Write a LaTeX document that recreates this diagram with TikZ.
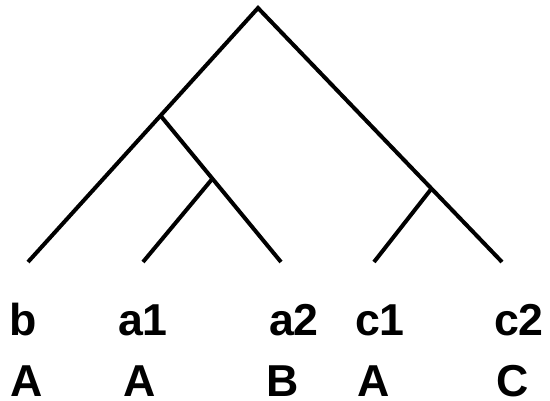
\documentclass[tikz,border=0pt]{standalone}
\usepackage{fontspec}
\setmainfont{Liberation Sans}
\usepackage{tikz}
\tikzset{
branch/.style={line width=4pt,black,line cap=butt},
leaflabel/.style={font=\fontsize{44.7}{50}\selectfont\bfseries,anchor=base,inner sep=0pt}
}

\begin{document}
\begin{tikzpicture}[x=1pt,y=-1pt]
\useasboundingbox (0,0) rectangle (550,401);
% tree points
\coordinate (root) at (258,8);
\coordinate (nab) at (160,115);
\coordinate (na) at (213,178);
\coordinate (nc) at (432,188);
\coordinate (lb) at (28,262);
\coordinate (la1) at (143,262);
\coordinate (la2) at (281,262);
\coordinate (lc1) at (374,262);
\coordinate (lc2) at (502,262);
% branches
\draw[branch] (lb) -- (root) -- (lc2);
\draw[branch] (nab) -- (la2);
\draw[branch] (na) -- (la1);
\draw[branch] (nc) -- (lc1);
% labels
\node[leaflabel] (tb) at (23,336) {b};
\node[leaflabel] (ta1) at (143,336) {a1};
\node[leaflabel] (ta2) at (294,336) {a2};
\node[leaflabel] (tc1) at (380,336) {c1};
\node[leaflabel] (tc2) at (519,336) {c2};
\node[leaflabel] (gb) at (27,397) {A};
\node[leaflabel] (ga1) at (140,397) {A};
\node[leaflabel] (ga2) at (283,397) {B};
\node[leaflabel] (gc1) at (374,397) {A};
\node[leaflabel] (gc2) at (513,397) {C};
\end{tikzpicture}
\end{document}
